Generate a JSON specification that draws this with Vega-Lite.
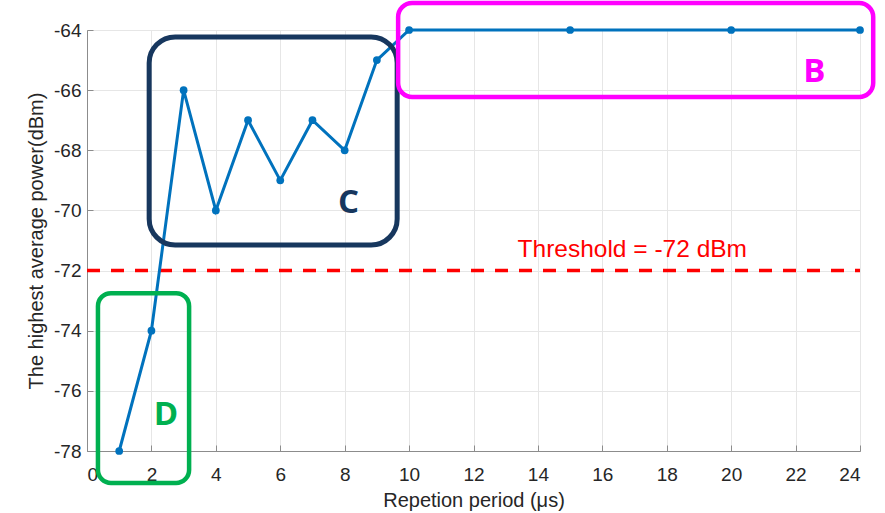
{
  "$schema": "https://vega.github.io/schema/vega-lite/v6.json",
  "width": 773,
  "height": 421,
  "autosize": {"type": "none"},
  "padding": {"left": 87, "top": 30, "right": 25, "bottom": 62},
  "background": "white",
  "config": {
    "view": {"stroke": "#8c8c8c", "strokeWidth": 1},
    "axis": {
      "labelFont": "Liberation Sans",
      "titleFont": "Liberation Sans",
      "labelFontSize": 19,
      "titleFontSize": 20,
      "titleFontWeight": "normal",
      "labelColor": "#262626",
      "titleColor": "#262626",
      "gridColor": "#e6e6e6",
      "gridWidth": 1,
      "domainColor": "#8c8c8c",
      "tickColor": "#8c8c8c",
      "tickSize": -6
    }
  },
  "datasets": {
    "power": [
      {"period": 1, "power": -78},
      {"period": 2, "power": -74},
      {"period": 3, "power": -66},
      {"period": 4, "power": -70},
      {"period": 5, "power": -67},
      {"period": 6, "power": -69},
      {"period": 7, "power": -67},
      {"period": 8, "power": -68},
      {"period": 9, "power": -65},
      {"period": 10, "power": -64},
      {"period": 15, "power": -64},
      {"period": 20, "power": -64},
      {"period": 24, "power": -64}
    ],
    "threshold": [
      {"x0": 0, "x1": 24, "level": -72, "lx": 16.93, "ly": -71.55, "label": "Threshold = -72 dBm"}
    ],
    "boxes": [
      {"box": "B", "x0": 9.66, "x1": 24.41, "y0": -63.1, "y1": -66.23, "lx": 22.58, "ly": -65.73},
      {"box": "C", "x0": 1.93, "x1": 9.63, "y0": -64.23, "y1": -71.15, "lx": 8.12, "ly": -70.09},
      {"box": "D", "x0": 0.34, "x1": 3.17, "y0": -72.75, "y1": -79.06, "lx": 2.45, "ly": -77.14}
    ]
  },
  "layer": [
    {
      "data": {"name": "threshold"},
      "mark": {"type": "rule", "color": "#FF0000", "strokeWidth": 3.5, "strokeDash": [13, 11]},
      "encoding": {
        "x": {
          "field": "x0", "type": "quantitative",
          "scale": {"domain": [0, 24], "nice": false, "zero": false},
          "axis": {"values": [0, 2, 4, 6, 8, 10, 12, 14, 16, 18, 20, 22, 24], "title": "Repetion period (μs)", "labelPadding": 20, "titleBaseline": "alphabetic", "titleY": 55, "labelExpr": "'' + datum.value"}
        },
        "x2": {"field": "x1"},
        "y": {
          "field": "level", "type": "quantitative",
          "scale": {"domain": [-78, -64], "nice": false, "zero": false},
          "axis": {"values": [-78, -76, -74, -72, -70, -68, -66, -64], "title": "The highest average power(dBm)", "labelPadding": 12, "titleBaseline": "bottom", "titleX": -41, "labelExpr": "'' + datum.value"}
        }
      }
    },
    {
      "data": {"name": "power"},
      "mark": {"type": "line", "color": "#0072BD", "strokeWidth": 3},
      "encoding": {
        "x": {"field": "period", "type": "quantitative"},
        "y": {"field": "power", "type": "quantitative"}
      }
    },
    {
      "data": {"name": "power"},
      "mark": {"type": "point", "filled": true, "color": "#0072BD", "size": 60, "opacity": 1},
      "encoding": {
        "x": {"field": "period", "type": "quantitative"},
        "y": {"field": "power", "type": "quantitative"}
      }
    },
    {
      "data": {"name": "threshold"},
      "mark": {"type": "text", "color": "#FF0000", "font": "Liberation Sans", "fontSize": 24.5, "align": "center", "baseline": "alphabetic"},
      "encoding": {
        "x": {"field": "lx", "type": "quantitative"},
        "y": {"field": "ly", "type": "quantitative"},
        "text": {"field": "label"}
      }
    },
    {
      "data": {"name": "boxes"},
      "transform": [{"filter": "datum.box === 'C'"}],
      "mark": {"type": "rect", "fill": null, "fillOpacity": 0, "stroke": "#17375E", "strokeWidth": 5, "cornerRadius": 26},
      "encoding": {
        "x": {"field": "x0", "type": "quantitative"},
        "x2": {"field": "x1"},
        "y": {"field": "y0", "type": "quantitative"},
        "y2": {"field": "y1"}
      }
    },
    {
      "data": {"name": "boxes"},
      "transform": [{"filter": "datum.box === 'D'"}],
      "mark": {"type": "rect", "fill": null, "fillOpacity": 0, "stroke": "#00B050", "strokeWidth": 4.5, "cornerRadius": 13},
      "encoding": {
        "x": {"field": "x0", "type": "quantitative"},
        "x2": {"field": "x1"},
        "y": {"field": "y0", "type": "quantitative"},
        "y2": {"field": "y1"}
      }
    },
    {
      "data": {"name": "boxes"},
      "transform": [{"filter": "datum.box === 'B'"}],
      "mark": {"type": "rect", "fill": null, "fillOpacity": 0, "stroke": "#FF00FF", "strokeWidth": 4.5, "cornerRadius": 14},
      "encoding": {
        "x": {"field": "x0", "type": "quantitative"},
        "x2": {"field": "x1"},
        "y": {"field": "y0", "type": "quantitative"},
        "y2": {"field": "y1"}
      }
    },
    {
      "data": {"name": "boxes"},
      "mark": {"type": "text", "font": "Open Sans", "fontWeight": "bold", "fontSize": 33, "align": "center", "baseline": "alphabetic"},
      "encoding": {
        "x": {"field": "lx", "type": "quantitative"},
        "y": {"field": "ly", "type": "quantitative"},
        "text": {"field": "box"},
        "color": {
          "field": "box", "type": "nominal",
          "scale": {"domain": ["B", "C", "D"], "range": ["#FF00FF", "#17375E", "#00B050"]},
          "legend": null
        }
      }
    }
  ]
}
